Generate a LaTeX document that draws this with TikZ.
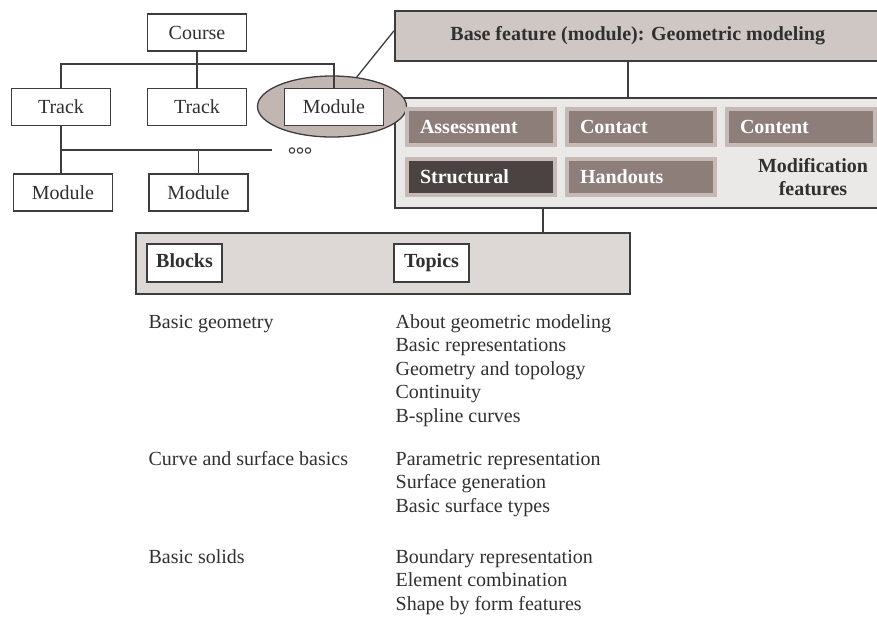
\documentclass[tikz,border=0pt]{standalone}
\usepackage{fontspec}
\usepackage{tikz}
\setmainfont{Liberation Serif}
\definecolor{edgegray}{HTML}{3D3D3D}
\definecolor{txtgray}{HTML}{303030}
\definecolor{basefill}{HTML}{CFC7C3}
\definecolor{modfill}{HTML}{EBE9E8}
\definecolor{rowfill}{HTML}{DDD8D5}
\definecolor{band}{HTML}{C6BAB7}
\definecolor{featfill}{HTML}{8D7E7A}
\definecolor{structfill}{HTML}{4B4341}
\definecolor{ellfill}{HTML}{C2B6B3}
\usetikzlibrary{shapes.geometric}

\begin{document}
\fontsize{20}{23.6}\selectfont
\begin{tikzpicture}[x=1pt,y=-1pt,line width=1.3pt,color=edgegray,text=txtgray,
  box/.style={draw,fill=white,minimum width=99pt,minimum height=37pt,inner sep=0pt},
  head/.style={draw,fill=white,font=\bfseries,minimum width=75pt,minimum height=38pt,inner sep=0pt,
    text height=13pt,text depth=4pt},
  feat/.style={draw=band,fill=featfill,line width=4pt,text=white,font=\bfseries,
    text width=122pt,inner xsep=13pt,minimum height=36pt,align=left},
  item/.style={anchor=base west,inner sep=0pt}]
\useasboundingbox (0,0) rectangle (877,619);
% base feature and modifications
\node[draw,fill=basefill,line width=1.5pt,minimum width=486pt,minimum height=50pt,anchor=north west,
  font=\bfseries] (base) at (394,10) {Base feature (module): Geometric modeling};
\node[draw,fill=modfill,line width=1.5pt,minimum width=486pt,minimum height=110pt,anchor=north west] (mods) at (394,97) {};
\coordinate (k1) at (628,0);
\coordinate (k2) at (543,0);
\draw (base.south -| k1) -- (mods.north -| k1);
% module tree
\node[ellipse,draw,fill=ellfill,minimum width=149pt,minimum height=61pt,inner sep=0pt] (sel) at (332,106.5) {};
\draw (sel.50) -- ([yshift=5pt]base.west);
\node[box] (course) at (197,32.5) {Course};
\node[box] (track1) at (61,107) {Track};
\node[box] (track2) at (197,107) {Track};
\node[box] (mod) at (334,107) {Module};
\node[box] (mod1) at (63,192.5) {Module};
\node[box] (mod2) at (198.5,192.5) {Module};
\coordinate (bus) at (197,64);
\coordinate (sub) at (61,150);
\coordinate (more) at (272,150);
\draw (track1.north) |- (bus) -| (mod.north);
\draw (course) -- (track2);
\draw (track1.south) -- (track1.south |- mod1.north);
\draw (mod2.north) |- (sub) -- (more);
\foreach \x in {292,300,308}
  \draw[line width=1.1pt] (\x,150.5) circle (2.7pt);
\node[feat] (assess) at (481,127) {Assessment};
\node[feat] (contact) at (641,127) {Contact};
\node[feat] (content) at (801,127) {Content};
\node[feat,fill=structfill] (struct) at (481,176.5) {Structural};
\node[feat] (hand) at (641,176.5) {Handouts};
\node[align=center,font=\bfseries,inner sep=0pt] (modlbl) at (813,177) {Modification\\features};
% blocks and topics
\node[draw,fill=rowfill,line width=1.5pt,minimum width=494pt,minimum height=61pt,anchor=north west] (row) at (135,232) {};
\draw (mods.south -| k2) -- (row.north -| k2);
\node[head] (blocks) at (184.5,263) {Blocks};
\node[head] (topics) at (431.5,263) {Topics};
\node[item] (b1) at (148,328) {Basic geometry};
\node[item] (b2) at (148,465) {Curve and surface basics};
\node[item] (b3) at (148,563) {Basic solids};
\foreach \t [count=\i from 0] in {About geometric modeling,Basic representations,Geometry and topology,Continuity,B-spline curves}
  \node[item] (ta\i) at (395,328+23.6*\i) {\t};
\foreach \t [count=\i from 0] in {Parametric representation,Surface generation,Basic surface types}
  \node[item] (tb\i) at (395,465+23.6*\i) {\t};
\foreach \t [count=\i from 0] in {Boundary representation,Element combination,Shape by form features}
  \node[item] (tc\i) at (395,563+23.6*\i) {\t};
\end{tikzpicture}
\end{document}
